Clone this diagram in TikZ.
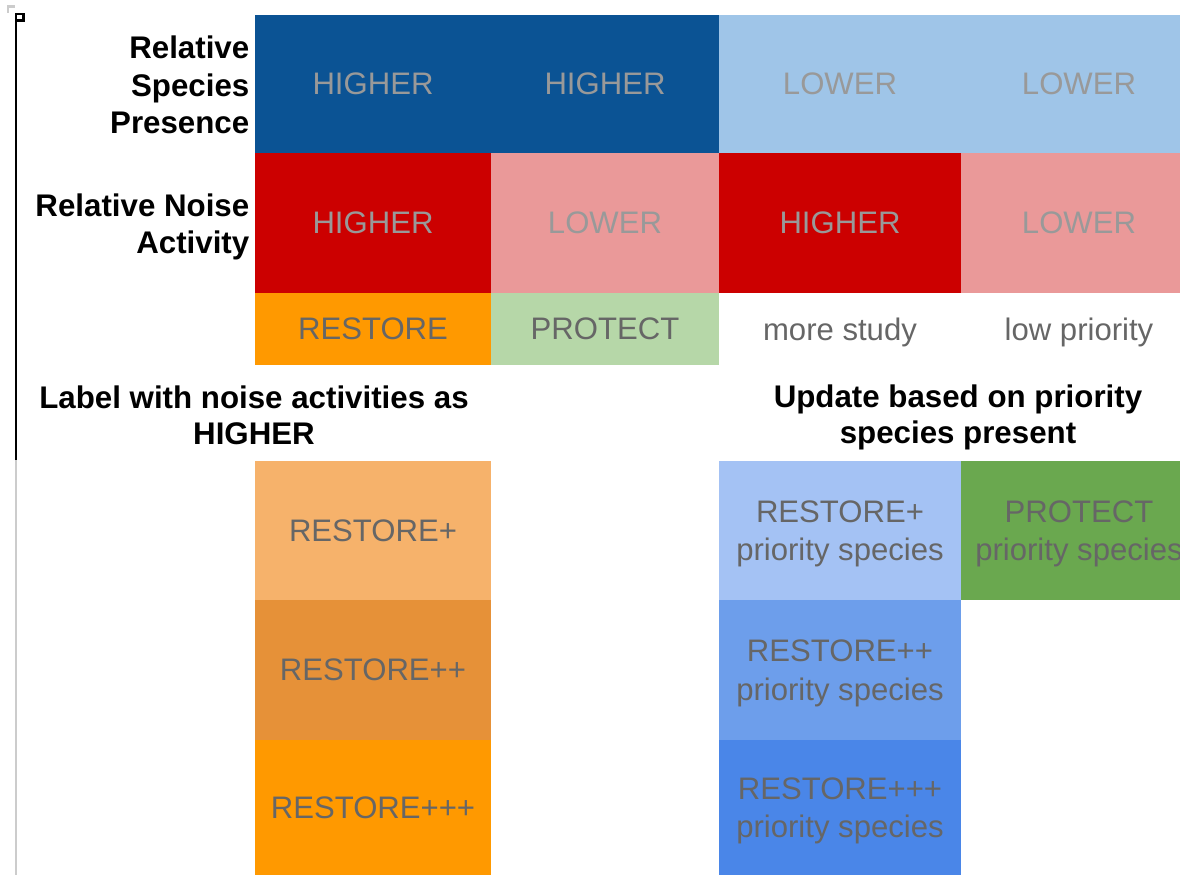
\documentclass[tikz,border=0pt]{standalone}
\usepackage{fontspec}
\setmainfont{Liberation Sans}

\definecolor{presHi}{HTML}{0B5394}
\definecolor{presLo}{HTML}{9FC5E8}
\definecolor{noiseHi}{HTML}{CC0000}
\definecolor{noiseLo}{HTML}{EA9999}
\definecolor{restoreC}{HTML}{FF9900}
\definecolor{protectC}{HTML}{B6D7A8}
\definecolor{restoreA}{HTML}{F6B26B}
\definecolor{restoreB}{HTML}{E69138}
\definecolor{prioA}{HTML}{A4C2F4}
\definecolor{prioB}{HTML}{6D9EEB}
\definecolor{prioC}{HTML}{4A86E8}
\definecolor{protectD}{HTML}{6AA84F}
\definecolor{txtLight}{HTML}{999999}
\definecolor{txtDark}{HTML}{666666}
\definecolor{rulerGray}{HTML}{CCCCCC}

\begin{document}
\begin{tikzpicture}[line cap=butt,
  cell/.style={rectangle,inner sep=0pt,outer sep=0pt,anchor=north west,align=center,
    font=\fontsize{8.85}{11}\selectfont},
  colA/.style={minimum width=2.36cm},
  colB/.style={minimum width=2.28cm},
  colC/.style={minimum width=2.42cm},
  colD/.style={minimum width=2.36cm},
  rowTop/.style={cell,text=txtLight,minimum height=1.38cm},
  rowMid/.style={cell,text=txtLight,minimum height=1.40cm},
  rowAct/.style={cell,text=txtDark,minimum height=0.72cm,text depth=0pt},
  rowLow/.style={cell,text=txtDark,minimum height=1.39cm},
  twoLine/.style={text depth=0pt},
  rowhead/.style={anchor=east,align=right,inner sep=0pt,
    font=\bfseries\fontsize{8.9}{10.7}\selectfont},
  subhead/.style={align=center,inner sep=0pt,font=\bfseries\fontsize{8.9}{10.3}\selectfont}]
  \useasboundingbox (0,0) rectangle (11.8,8.75);
  \clip (0,0) rectangle (11.8,8.75);

  % ruler on the left edge
  \draw[rulerGray,line width=0.6pt] (0.08,8.62) -- (0.08,8.685) -- (0.15,8.685);
  \draw[line width=0.6pt] (0.16,8.545) rectangle (0.235,8.61);
  \draw[line width=0.6pt] (0.16,8.545) -- (0.16,4.15);
  \draw[rulerGray,line width=0.6pt] (0.16,4.15) -- (0.16,0);

  % row headings
  \node[rowhead] (presLabel) at (2.50,7.90) {Relative\\Species\\Presence};
  \node[rowhead] (noiseLabel) at (2.50,6.48) {Relative Noise\\Activity};

  % species presence
  \node[rowTop,colA,fill=presHi] (presA) at (2.55,8.60) {HIGHER};
  \node[rowTop,colB,fill=presHi] (presB) at (4.91,8.60) {HIGHER};
  \node[rowTop,colC,fill=presLo] (presC) at (7.19,8.60) {LOWER};
  \node[rowTop,colD,fill=presLo] (presD) at (9.61,8.60) {LOWER};

  % noise activity
  \node[rowMid,colA,fill=noiseHi] (noiseA) at (2.55,7.22) {HIGHER};
  \node[rowMid,colB,fill=noiseLo] (noiseB) at (4.91,7.22) {LOWER};
  \node[rowMid,colC,fill=noiseHi] (noiseC) at (7.19,7.22) {HIGHER};
  \node[rowMid,colD,fill=noiseLo] (noiseD) at (9.61,7.22) {LOWER};

  % resulting action
  \node[rowAct,colA,fill=restoreC] (actA) at (2.55,5.82) {RESTORE};
  \node[rowAct,colB,fill=protectC] (actB) at (4.91,5.82) {PROTECT};
  \node[rowAct,colC] (actC) at (7.19,5.82) {more study};
  \node[rowAct,colD] (actD) at (9.61,5.82) {low priority};

  % follow-up headings
  \node[subhead] (noiseNote) at (2.54,4.60) {Label with noise activities as\\HIGHER};
  \node[subhead] (prioNote) at (9.58,4.575) {Update based on priority\\species present};

  % restore levels
  \node[rowLow,colA,fill=restoreA] (levA) at (2.55,4.14) {RESTORE+};
  \node[rowLow,colA,fill=restoreB,minimum height=1.40cm] (levB) at (2.55,2.75) {RESTORE++};
  \node[rowLow,colA,fill=restoreC,minimum height=1.35cm] (levC) at (2.55,1.35) {RESTORE+++};

  % priority species levels
  \node[rowLow,twoLine,colC,fill=prioA] (prioA) at (7.19,4.14) {RESTORE+\\priority species};
  \node[rowLow,twoLine,colC,fill=prioB,minimum height=1.40cm] (prioB) at (7.19,2.75) {RESTORE++\\priority species};
  \node[rowLow,twoLine,colC,fill=prioC,minimum height=1.35cm] (prioC) at (7.19,1.35) {RESTORE+++\\priority species};
  \node[rowLow,twoLine,colD,fill=protectD] (prioD) at (9.61,4.14) {PROTECT\\priority species};
\end{tikzpicture}
\end{document}
